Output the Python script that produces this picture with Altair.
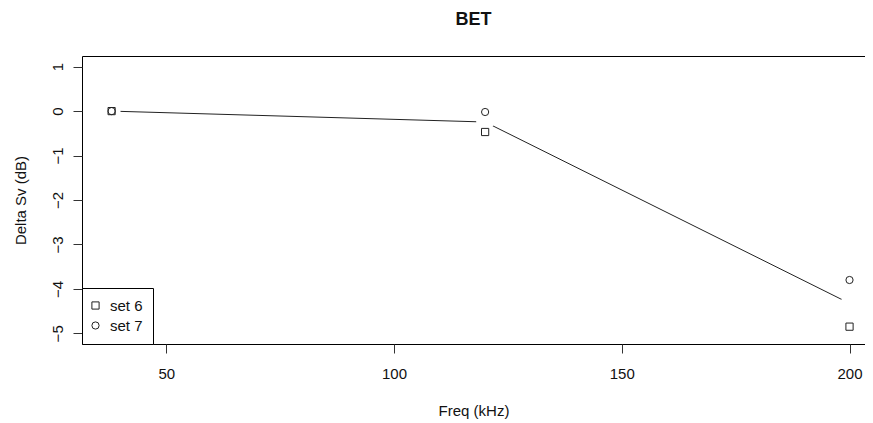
import altair as alt
import pandas as pd

freq = [38, 120, 200]
set6 = [0.0, -0.47, -4.85]
set7 = [0.0, -0.02, -3.80]
series_names = ["set 6", "set 7"]
x_ticks = [50, 100, 150, 200]
y_ticks = [-5, -4, -3, -2, -1, 0, 1]

pts = pd.DataFrame({
    "freq": freq * 2,
    "delta": set6 + set7,
    "set": [series_names[0]] * len(freq) + [series_names[1]] * len(freq),
})
means = pd.DataFrame({
    "freq": freq,
    "delta": [(a + b) / 2 for a, b in zip(set6, set7)],
})

FONT = "Liberation Sans"

x_enc = alt.X(
    "freq:Q",
    scale=alt.Scale(domain=[31.5, 203.4], nice=False, zero=False),
    axis=alt.Axis(values=x_ticks, title="Freq (kHz)", grid=False, domain=False,
                  tickSize=9, labelPadding=13, titlePadding=22,
                  labelFontSize=15, titleFontSize=15, titleFontWeight="normal",
                  labelFont=FONT, titleFont=FONT, tickColor="#333",
                  labelColor="#111", titleColor="#111", labelFlush=False),
)
y_enc = alt.Y(
    "delta:Q",
    scale=alt.Scale(domain=[-5.24, 1.24], nice=False, zero=False),
    axis=alt.Axis(values=y_ticks, title="Delta Sv (dB)", grid=False, domain=False,
                  tickSize=9, labelPadding=11, titlePadding=22,
                  labelAngle=270, labelAlign="center", labelBaseline="alphabetic",
                  labelFontSize=15, titleFontSize=15, titleFontWeight="normal",
                  labelFont=FONT, titleFont=FONT, tickColor="#333",
                  labelColor="#111", titleColor="#111", labelFlush=False),
)

line = alt.Chart(means).mark_line(color="#222", strokeWidth=1).encode(x=x_enc, y=y_enc)
gaps = alt.Chart(means).mark_point(filled=True, color="white", opacity=1, size=324,
                                   shape="circle").encode(x="freq:Q", y="delta:Q")
points = alt.Chart(pts).mark_point(filled=False, color="#222", size=52, strokeWidth=1,
                                   opacity=1).encode(
    x="freq:Q",
    y="delta:Q",
    shape=alt.Shape("set:N",
                    scale=alt.Scale(domain=series_names, range=["square", "circle"]),
                    legend=alt.Legend(title=None, orient="bottom-left", offset=0,
                                      strokeColor="black", fillColor="white",
                                      padding=10, rowPadding=4, labelOffset=7,
                                      symbolOffset=-4,
                                      labelFontSize=15, labelFont=FONT,
                                      labelColor="#111", symbolSize=52,
                                      symbolStrokeColor="#222", symbolStrokeWidth=1,
                                      symbolFillColor="transparent",
                                      cornerRadius=0)),
)

chart = alt.layer(line, gaps, points).properties(
    width=783,
    height=288,
    background="white",
    title=alt.TitleParams("BET", fontSize=18, fontWeight="bold", font=FONT,
                          anchor="middle", baseline="alphabetic", offset=13,
                          color="#111"),
    autosize=alt.AutoSizeParams(type="none"),
    padding={"left": 74, "top": 48, "right": 0, "bottom": 77},
).configure_view(stroke="black", strokeWidth=1)

chart.save("out.html", embed_options={"renderer": "svg", "actions": False})
